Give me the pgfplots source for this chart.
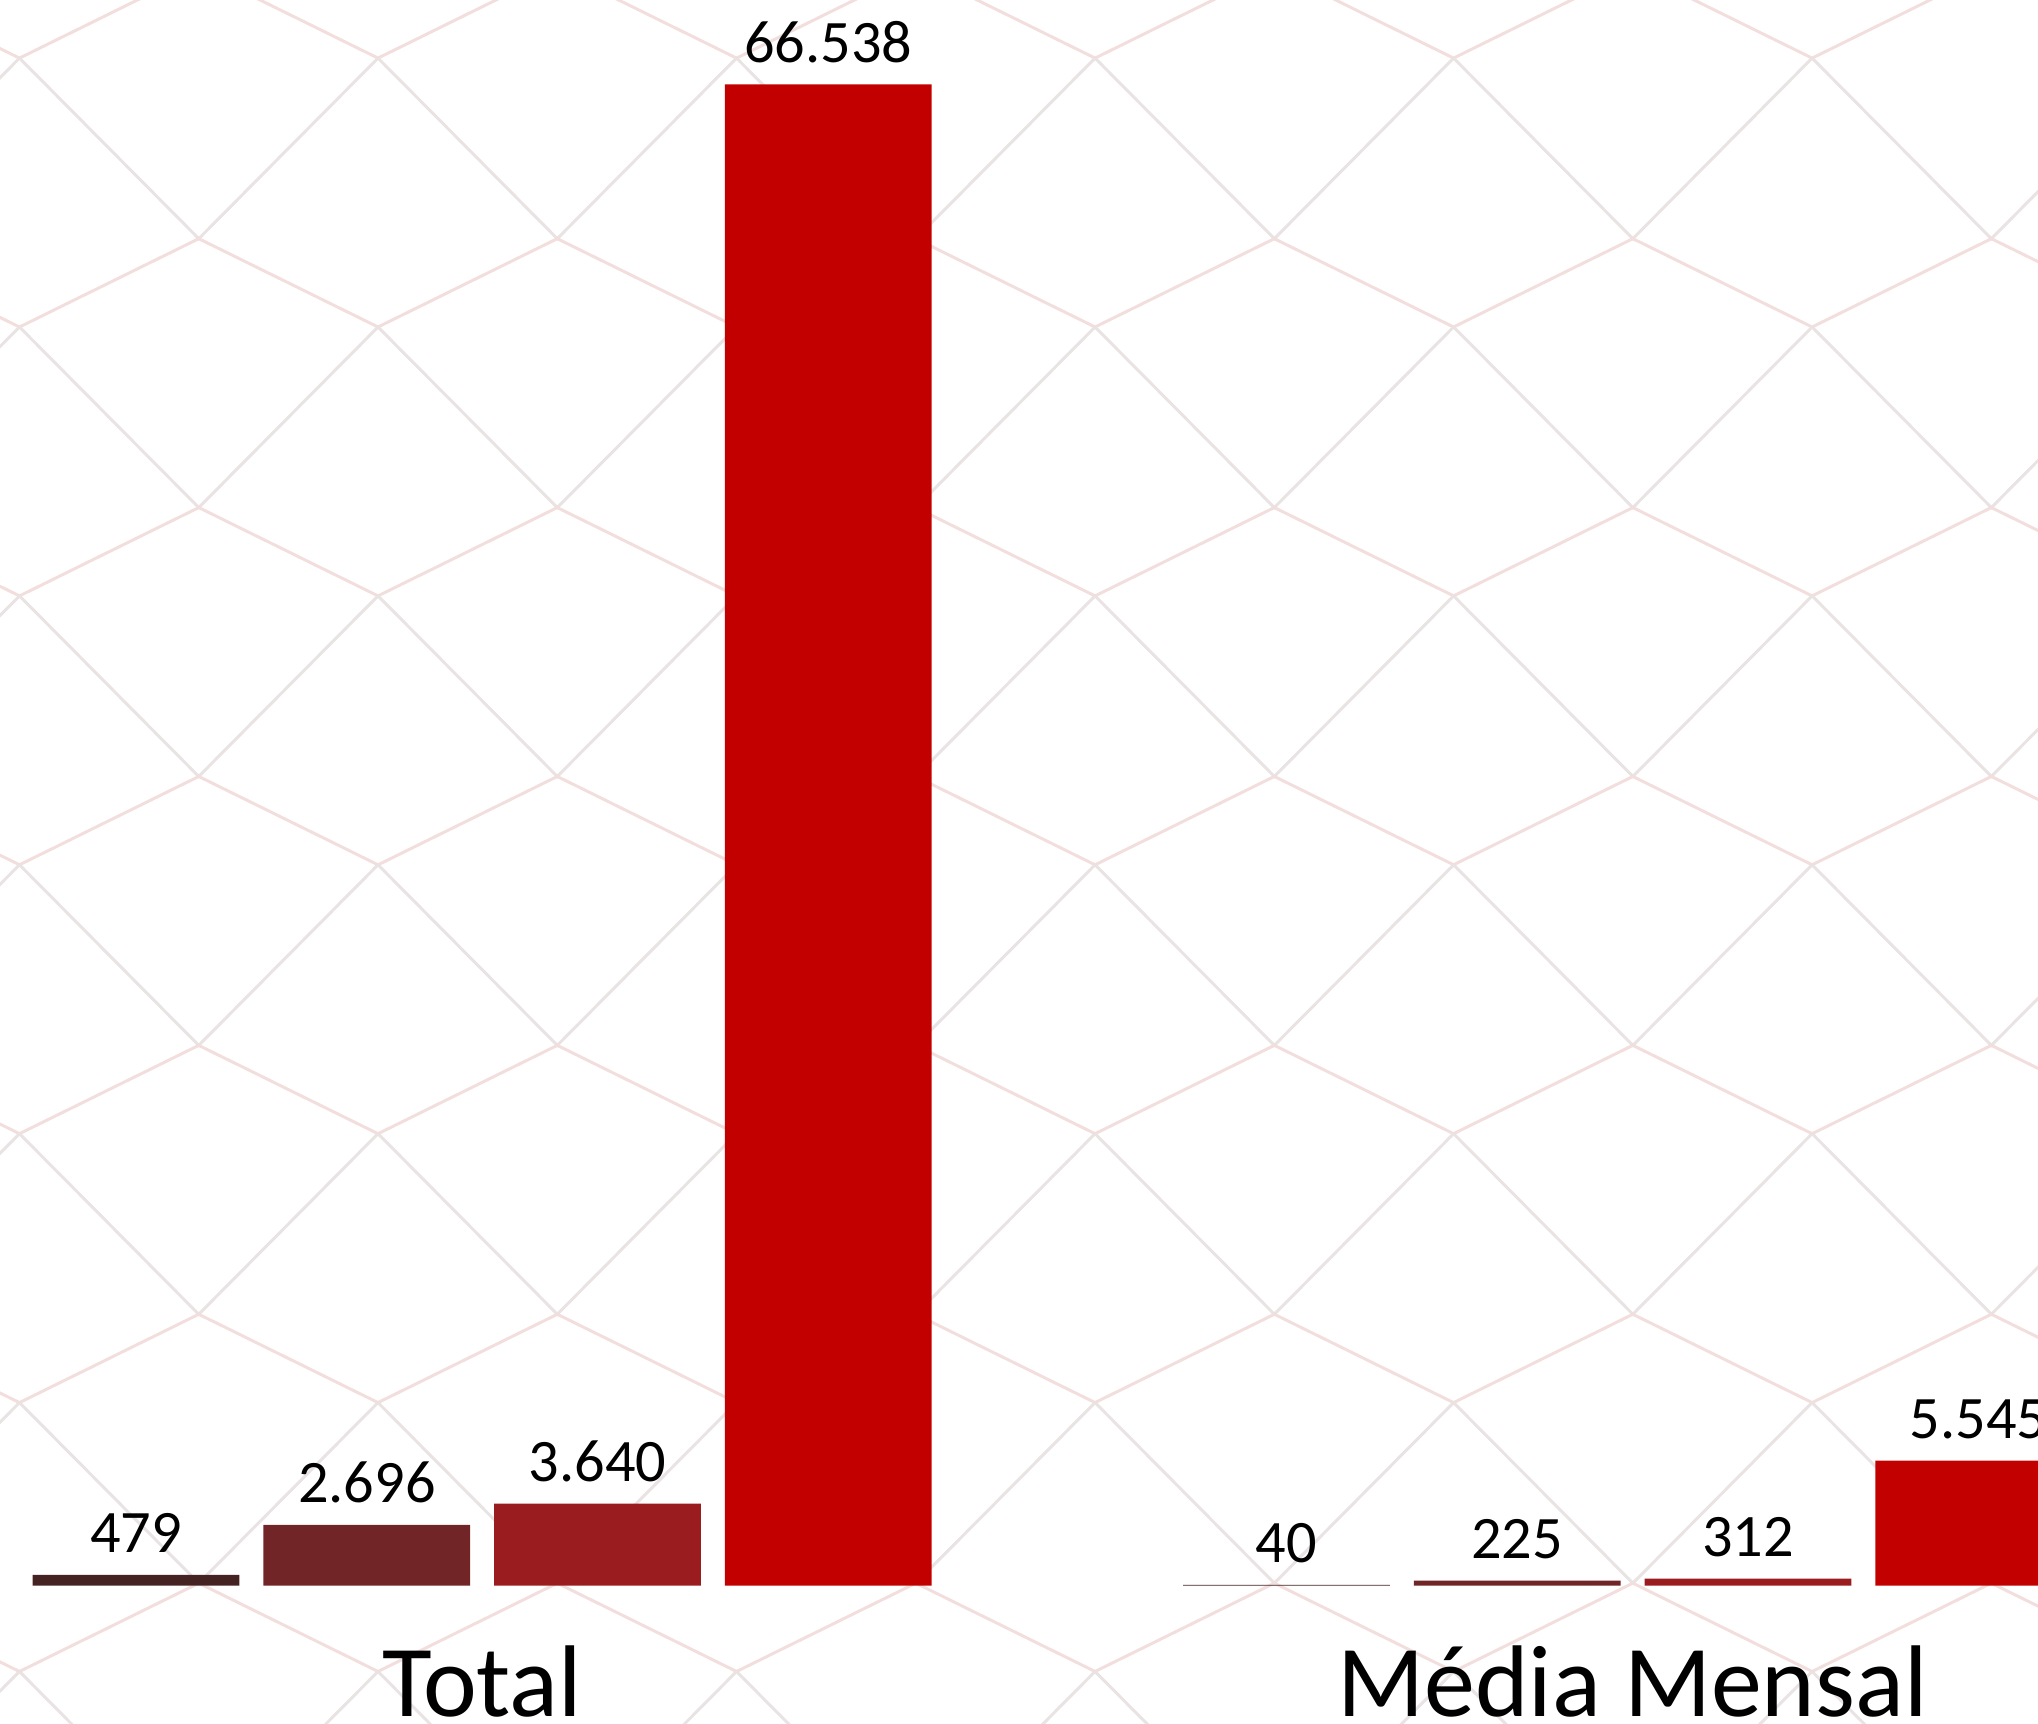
\documentclass[border=0pt]{standalone}
\usepackage{pgfplots}
\pgfplotsset{compat=1.18}
\usepackage{fontspec}
\setmainfont{Carlito}
\definecolor{cA}{HTML}{452322}
\definecolor{cB}{HTML}{722527}
\definecolor{cC}{HTML}{9B1C1E}
\definecolor{cD}{HTML}{C30000}
\definecolor{patpink}{HTML}{F2DEDD}
\definecolor{patgrey}{HTML}{E9E3E3}
\begin{document}
\begin{tikzpicture}
\path[use as bounding box] (0,0) rectangle (15.68,13.26);
\clip (0,0) rectangle (15.68,13.26);
\begin{scope}[x=0.01cm,y=0.01cm]
\foreach \i in {-1,...,6}{
  \foreach \j in {-1,...,7}{
    \pgfmathsetmacro\bx{153+276*\i}
    \pgfmathsetmacro\by{1326-(183+207*\j)}
    \pgfmathsetmacro\axl{15+276*\i}
    \pgfmathsetmacro\axr{15+276*(\i+1)}
    \pgfmathsetmacro\ayu{1326-(44+207*\j)}
    \pgfmathsetmacro\ayd{1326-(44+207*(\j+1))}
    \draw[patgrey, line width=0.65pt] (\axl,\ayu) -- (\bx,\by) -- (\axr,\ayu);
    \draw[patpink, line width=0.65pt] (\axl,\ayd) -- (\bx,\by) -- (\axr,\ayd);
  }
}
\end{scope}
\begin{axis}[
  at={(0,0)}, anchor=south west,
  scale only axis, width=15.68cm, height=13.26cm,
  xmin=-0.4192, xmax=1.3525, ymin=-6107, ymax=70283,
  axis line style={draw=none}, tick style={draw=none},
  ytick=\empty, xtick={0,1}, xticklabels={Total,Média Mensal},
  xticklabel style={anchor=base, yshift=0.2cm, inner sep=0pt, font=\fontsize{22.3}{24}\selectfont},
  ybar=0pt, bar width=0.1797,
  nodes near coords={\pgfmathprintnumber[fixed,precision=0,1000 sep={.},assume math mode=true]{\pgfplotspointmeta}},
  every node near coord/.append style={anchor=base, yshift=0.17cm, inner sep=0pt, text=black, font=\fontsize{13.2}{14}\selectfont},
  clip=false,
]
\addplot[fill=cA, draw=none, bar shift=-0.3009] coordinates {(0,479) (1,40)};
\addplot[fill=cB, draw=none, bar shift=-0.1003] coordinates {(0,2696) (1,225)};
\addplot[fill=cC, draw=none, bar shift=0.1003] coordinates {(0,3640) (1,312)};
\addplot[fill=cD, draw=none, bar shift=0.3009] coordinates {(0,66538) (1,5545)};
\end{axis}
\end{tikzpicture}
\end{document}
